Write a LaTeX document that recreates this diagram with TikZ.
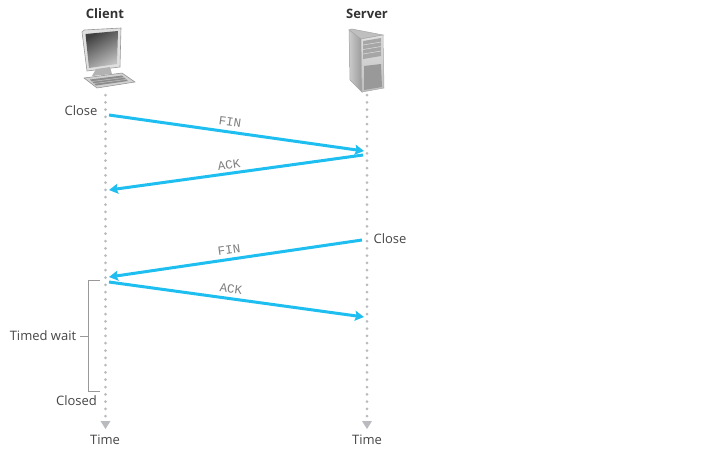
\documentclass[tikz,border=0pt]{standalone}
\usepackage{fontspec}
\setmainfont{Open Sans}
\setmonofont{Liberation Mono}
\usetikzlibrary{arrows.meta}
\definecolor{flow}{RGB}{30,190,240}
\definecolor{ink}{RGB}{70,70,70}
\definecolor{rail}{RGB}{185,187,190}
\tikzset{
  x=1pt,y=-1pt,
  flowline/.style={draw=flow,line width=3pt,-{Stealth[length=9pt,width=10pt,inset=1.5pt]}},
  lifeline/.style={draw=rail,line width=3pt,line cap=round,dash pattern=on 0pt off 7.3pt},
  lifehead/.style={fill=rail,draw=none},
  label/.style={font=\fontsize{13pt}{15pt}\selectfont,text=ink,inner sep=0pt},
  title/.style={font=\fontsize{13pt}{15pt}\selectfont\bfseries,text=black!80,inner sep=0pt},
  msg/.style={font=\ttfamily\fontsize{12.5pt}{14pt}\selectfont,text=black!50,inner sep=0pt},
  bracket/.style={draw=black!40,line width=1pt},
}
\begin{document}
\begin{tikzpicture}
\useasboundingbox (0,0) rectangle (713,456);
\fill[white] (0,0) rectangle (713,456);

% lifelines
\coordinate (cTop) at (105.5,95);
\coordinate (cEnd) at (105.5,420);
\coordinate (sTop) at (367,95);
\coordinate (sEnd) at (367,420);
\draw[lifeline] (cTop) -- (cEnd);
\draw[lifeline] (sTop) -- (sEnd);
\fill[lifehead] (100.5,421) -- (110.5,421) -- (105.5,429) -- cycle;
\fill[lifehead] (362,421) -- (372,421) -- (367,429) -- cycle;

% client computer
\draw[black!40,line width=.6pt,fill=black!12] (82,32) -- (84,30) -- (121,28) -- (120,67) -- (87,71) -- cycle;
\shade[left color=black!75,right color=black!25,middle color=black!50,shading angle=30]
  (85.5,34) -- (118,31) -- (117,64) -- (89,68) -- cycle;
\fill[black!30] (96,69) -- (110,67) -- (112,74) -- (92,76) -- cycle;
\fill[black!18,draw=black!45,line width=.5pt] (84,78) -- (122,73) -- (135,82) -- (97,88) -- cycle;
\fill[black!45] (90,79.5) -- (122,75.5) -- (128,81) -- (96,85.5) -- cycle;
\draw[black!20,line width=.4pt] (92,81.5) -- (124,77.5) (94,83.5) -- (126,79.5);

% server
\fill[black!25,draw=black!35,line width=.5pt] (349,30) -- (352,29) -- (383,35) -- (361,39) -- cycle;
\shade[left color=black!20,right color=black!40,draw=black!35,line width=.5pt]
  (349,30) -- (361,39) -- (362,92) -- (350,80) -- cycle;
\shade[top color=black!12,bottom color=black!25,draw=black!35,line width=.5pt]
  (361,39) -- (383,35) -- (384,88) -- (362,92) -- cycle;
\fill[black!35] (363,41) -- (381,38) -- (381,56) -- (363,59) -- cycle;
\draw[black!12,line width=.5pt] (363,45) -- (381,42) (363,49.5) -- (381,46.5) (363,54) -- (381,51);
\fill[black!40] (364,66) -- (381,64) -- (382,87) -- (364,90) -- cycle;

% titles
\node[title] (client) at (105,14) {Client};
\node[title] (server) at (367,14) {Server};

% labels
\node[label] (closeC) at (81,111) {Close};
\node[label] (closeS) at (390,239) {Close};
\node[label] (timed) at (43,336) {Timed wait};
\node[label] (closed) at (76.5,401) {Closed};
\node[label] (timeC) at (105,440) {Time};
\node[label] (timeS) at (367,440) {Time};

% messages
\coordinate (a1) at (109,115);
\coordinate (b1) at (364,151);
\coordinate (a2) at (363,155);
\coordinate (b2) at (109,190);
\coordinate (a3) at (362,240);
\coordinate (b3) at (109,277);
\coordinate (a4) at (109,282);
\coordinate (b4) at (364,317);
\draw[flowline] (a1) -- (b1);
\draw[flowline] (a2) -- (b2);
\draw[flowline] (a3) -- (b3);
\draw[flowline] (a4) -- (b4);
\node[msg,rotate=-8] (m1) at (230,122) {FIN};
\node[msg,rotate=8] (m2) at (229,165) {ACK};
\node[msg,rotate=8] (m3) at (229,250) {FIN};
\node[msg,rotate=-8] (m4) at (231,289) {ACK};

% bracket
\coordinate (br1) at (100,280);
\coordinate (br2) at (88,280);
\coordinate (br3) at (88,391);
\coordinate (br4) at (100,391);
\coordinate (brm) at (88,336);
\coordinate (brt) at (80,336);
\draw[bracket] (br1) -- (br2) -- (br3) -- (br4);
\draw[bracket] (brm) -- (brt);
\end{tikzpicture}
\end{document}
